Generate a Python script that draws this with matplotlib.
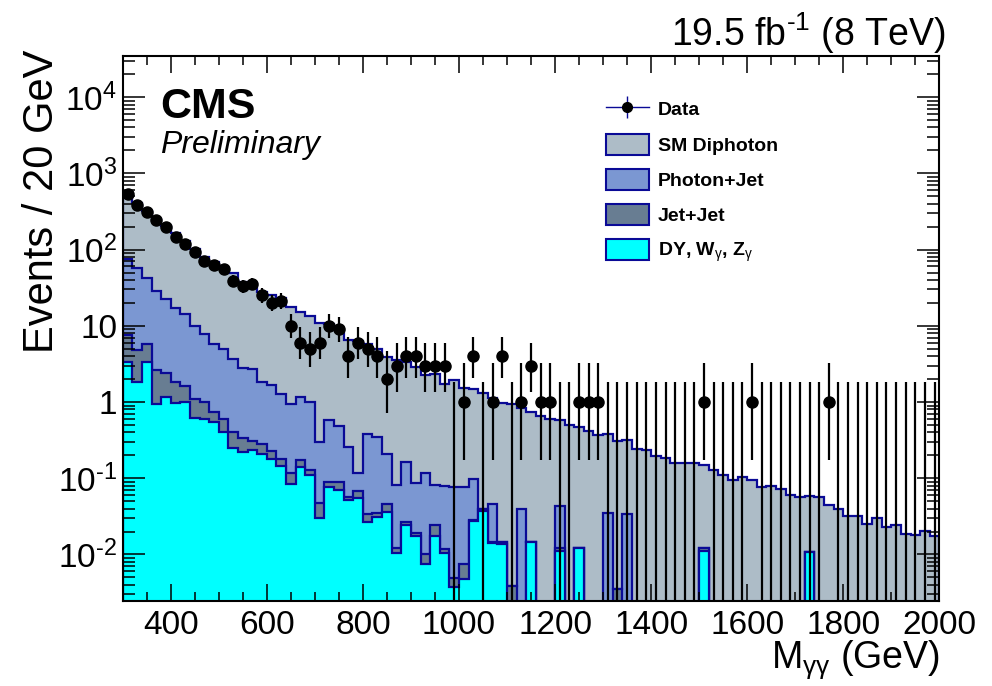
import numpy as np
import matplotlib
matplotlib.use("Agg")
import matplotlib.pyplot as plt
from matplotlib.lines import Line2D
from matplotlib.patches import Patch
from matplotlib.ticker import MultipleLocator, LogLocator, NullFormatter

plt.rcParams["font.family"] = ["Liberation Sans", "DejaVu Sans"]
plt.rcParams["mathtext.fontset"] = "custom"
plt.rcParams["mathtext.rm"] = "Liberation Sans"
plt.rcParams["mathtext.it"] = "Liberation Sans:italic"
plt.rcParams["mathtext.bf"] = "Liberation Sans:bold"

# 20 GeV bins, 300 -> 2000 GeV
bin_edges = np.arange(300, 2001, 20)

# observed events per bin
data = [532, 390, 312, 248, 199, 147, 117, 92, 70, 62,
        55, 39, 33, 35, 25, 20, 21, 10, 6, 5,
        6, 10, 9, 4, 6, 5, 4, 2, 3, 4,
        4, 3, 3, 3, 0, 1, 4, 0, 1, 4,
        0, 1, 3, 1, 1, 0, 0, 1, 1, 1,
        0, 0, 0, 0, 0, 0, 0, 0, 0, 0,
        1, 0, 0, 0, 0, 1, 0, 0, 0, 0,
        0, 0, 0, 1, 0, 0, 0, 0, 0, 0,
        0, 0, 0, 0, 0]

# backgrounds (individual contributions, stacked below)
dy_wg_zg = [3.38, 1.85, 3.38, 0.94, 1.15, 0.96, 1.01, 0.62, 0.59, 0.54,
            0.40, 0.246, 0.22, 0.235, 0.208, 0.18, 0.145, 0.083, 0.139, 0.111,
            0.030, 0.077, 0.070, 0.052, 0.055, 0.027, 0.031, 0.036, 0.0104, 0.024,
            0.0175, 0.0075, 0.0176, 0.0104, 0.0037, 0.0047, 0.0277, 0.037, 0.014, 0.0136,
            0, 0, 0.0147, 0, 0, 0.0112, 0, 0.0122, 0, 0,
            0, 0, 0, 0, 0, 0, 0, 0, 0, 0,
            0.0112, 0, 0, 0, 0, 0, 0, 0, 0, 0,
            0, 0.0108, 0, 0, 0, 0, 0, 0, 0, 0,
            0, 0, 0, 0, 0]

jet_jet = [4.22, 2.95, 2.42, 1.69, 1.27, 0.89, 0.59, 0.48, 0.41, 0.20,
           0.19, 0.164, 0.12, 0.075, 0.072, 0.045, 0.035, 0.035, 0.035, 0.016,
           0.017, 0.013, 0.018, 0.005, 0.012, 0.007, 0.004, 0.010, 0.0016, 0.003,
           0.0018, 0.0025, 0.0064, 0.0013, 0.0012, 0.0028, 0.0003, 0.002, 0.0007, 0.0011,
           0.0038, 0, 0, 0, 0, 0.0011, 0, 0, 0, 0,
           0, 0.0035, 0, 0, 0, 0, 0, 0, 0, 0,
           0.001, 0, 0, 0, 0, 0, 0, 0, 0, 0,
           0, 0, 0, 0, 0, 0, 0, 0, 0, 0,
           0, 0, 0, 0, 0]

photon_jet = [67.4, 53.2, 36.2, 26.4, 19.9, 15.2, 12.7, 8.9, 6.7, 5.06,
              4.31, 3.24, 2.48, 2.37, 1.53, 1.445, 1.09, 0.82, 0.99, 0.86,
              0.253, 0.49, 0.40, 0.203, 0.05, 0.346, 0.315, 0.164, 0.069, 0.136,
              0.068, 0.106, 0.058, 0.067, 0.071, 0.0695, 0.070, 0, 0.031, 0,
              0, 0.039, 0, 0, 0, 0.031, 0, 0, 0, 0,
              0.0346, 0, 0.0336, 0, 0, 0, 0, 0, 0, 0,
              0, 0, 0, 0, 0, 0, 0, 0, 0, 0,
              0, 0, 0, 0, 0, 0, 0, 0, 0, 0,
              0, 0, 0, 0, 0]

sm_diphoton = [475, 352, 278, 226, 183, 149, 114, 92, 72, 62,
               54, 45.4, 34.2, 33.9, 25.7, 24.0, 22.0, 16.8, 13.8, 12.4,
               10.6, 10.0, 8.4, 6.34, 6.13, 5.32, 4.62, 3.69, 3.52, 3.14,
               2.81, 2.18, 2.22, 1.66, 1.85, 1.45, 1.39, 1.28, 1.07, 0.965,
               0.946, 0.80, 0.725, 0.66, 0.60, 0.532, 0.505, 0.458, 0.42, 0.366,
               0.342, 0.30, 0.281, 0.24, 0.235, 0.194, 0.184, 0.159, 0.16, 0.16,
               0.139, 0.127, 0.111, 0.096, 0.105, 0.096, 0.077, 0.079, 0.073, 0.060,
               0.056, 0.047, 0.056, 0.044, 0.039, 0.032, 0.0316, 0.025, 0.0305, 0.023,
               0.024, 0.0186, 0.0178, 0.0204, 0.0175]

labels = ["SM Diphoton", "Photon+Jet", "Jet+Jet", r"DY, W$_{\mathrm{\gamma}}$, Z$_{\mathrm{\gamma}}$"]
colors = ["#adbcc7", "#7b97d2", "#687d92", "#00ffff"]
line_col = "#0a0a96"

yticks = [1e-2, 1e-1, 1, 10, 1e2, 1e3, 1e4]
ytick_labels = [r"10$^{\text{-2}}$", r"10$^{\text{-1}}$", "1", "10",
                r"10$^{2}$", r"10$^{3}$", r"10$^{4}$"]

fig = plt.figure(figsize=(9.92, 6.86), dpi=100)
ax = fig.add_axes([0.1237, 0.1243, 0.8232, 0.7941])

# stack: DY at the bottom, SM diphoton on top
stack = np.cumsum([dy_wg_zg, jet_jet, photon_jet, sm_diphoton], axis=0)
base = 1e-4
for k, lev in zip([3, 2, 1, 0], [0, 1, 2, 3]):
    vals = np.where(stack[k] > 0, stack[k], base)
    ax.stairs(vals, bin_edges, baseline=base, fill=True,
              facecolor=colors[lev], edgecolor=line_col, linewidth=1.6)

# data with poisson (Garwood-like) intervals
n = np.array(data, dtype=float)
centers = 0.5 * (bin_edges[:-1] + bin_edges[1:])
lo = np.where(n > 0, n * (1 - 1 / (9 * np.maximum(n, 1)) - 1 / (3 * np.sqrt(np.maximum(n, 1)))) ** 3, base)
hi = (n + 1) * (1 - 1 / (9 * (n + 1)) + 1 / (3 * np.sqrt(n + 1))) ** 3
ax.vlines(centers, lo, hi, color="black", linewidth=1.6, zorder=5)
m = n > 0
ax.plot(centers[m], n[m], "o", color="black", markersize=8, zorder=6)

ax.set_yscale("log")
ax.set_xlim(300, 2000)
ax.set_ylim(0.00247, 3.47e4)
ax.xaxis.set_major_locator(MultipleLocator(200))
ax.xaxis.set_minor_locator(MultipleLocator(50))
ax.set_yticks(yticks)
ax.set_yticklabels(ytick_labels)
ax.yaxis.set_minor_locator(LogLocator(base=10, subs=np.arange(2, 10)))
ax.yaxis.set_minor_formatter(NullFormatter())
ax.tick_params(which="both", direction="in", top=True, right=True, width=1.1, colors="black")
ax.tick_params(axis="x", which="major", length=12, pad=7, labelsize=24)
ax.tick_params(axis="x", which="minor", length=6.5)
ax.tick_params(axis="y", which="major", length=16, pad=4, labelsize=24)
ax.tick_params(axis="y", which="minor", length=8.5)
for s in ax.spines.values():
    s.set_linewidth(1.5)

fig.text(0.042, 0.927, "Events / 20 GeV", rotation=90, ha="center", va="top", fontsize=30)
fig.text(0.948, 0.026, r"M$_{\mathrm{\gamma\gamma}}$ (GeV)", ha="right", va="baseline", fontsize=27)
fig.text(0.953, 0.933, r"19.5 fb$^{\text{-1}}$ (8 TeV)", ha="right", va="baseline", fontsize=27)
ax.text(0.0457, 0.886, "CMS", transform=ax.transAxes, fontsize=31, fontweight="bold")
ax.text(0.0457, 0.822, "Preliminary", transform=ax.transAxes, fontsize=23, style="italic")

# data entry: horizontal + vertical bar and a dot
data_handle = (Line2D([0], [0], color=line_col, lw=1),
               Line2D([0], [0], color=line_col, lw=0, marker="|", markersize=16, markeredgewidth=1),
               Line2D([0], [0], lw=0, marker="o", markersize=7, color="black"))
handles = [data_handle]
for lab, c in zip(labels, colors):
    handles.append(Patch(facecolor=c, edgecolor=line_col, linewidth=1.5))
ax.legend(handles, ["Data"] + labels, loc="upper left", bbox_to_anchor=(0.580, 0.94),
          frameon=False, prop={"size": 14, "weight": "bold"}, handlelength=2.2,
          handleheight=1.3, labelspacing=0.72, handletextpad=0.45, borderpad=0)

fig.savefig("out.png", dpi=100)
